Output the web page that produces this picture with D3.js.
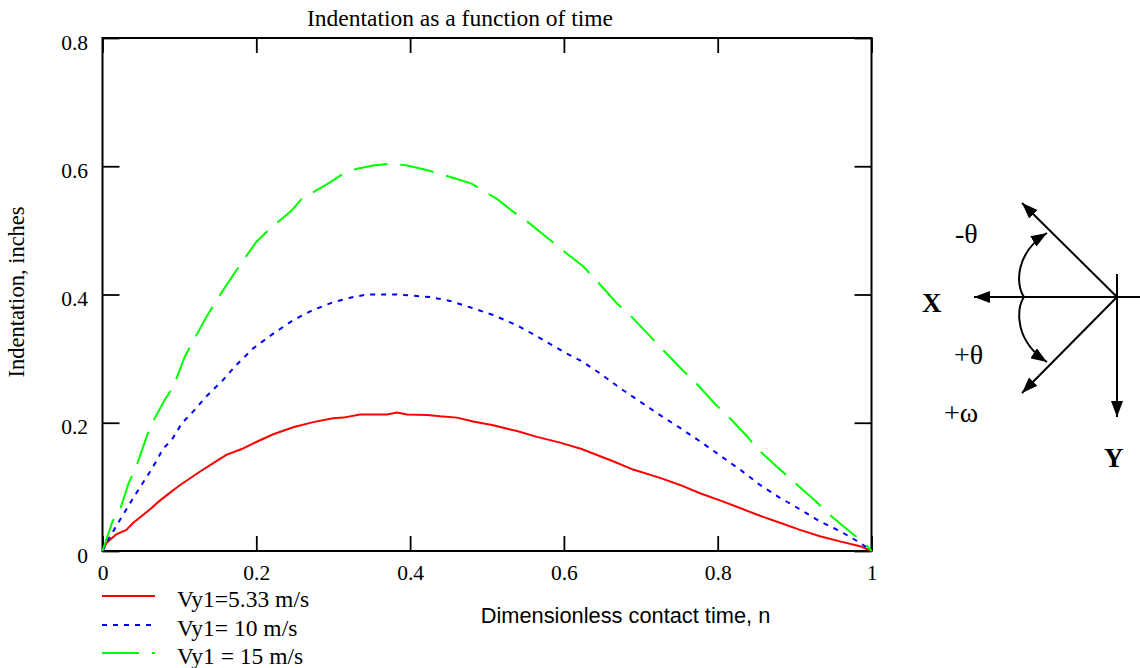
<!DOCTYPE html>
<html>
<head>
<meta charset="utf-8">
<script src="https://cdn.jsdelivr.net/npm/d3@7.9.0/dist/d3.min.js"></script>
<style>
  body { margin: 0; background: #fff; }
  svg { display: block; }
  .serif { font-family: "Liberation Serif", "Times New Roman", serif; }
</style>
</head>
<body>
<svg id="chart" width="1140" height="668"></svg>
<script>
// values (n = dimensionless contact time, v = indentation in inches)
const redN = [0, 0.0055, 0.018, 0.031, 0.040, 0.062, 0.073, 0.090, 0.101, 0.127, 0.144, 0.161, 0.181, 0.200, 0.222, 0.248, 0.274, 0.300, 0.313, 0.335, 0.370, 0.383, 0.396, 0.422, 0.439, 0.461, 0.482, 0.508, 0.539, 0.565, 0.595, 0.623, 0.638, 0.664, 0.690, 0.725, 0.751, 0.777, 0.803, 0.829, 0.855, 0.881, 0.907, 0.933, 0.959, 0.985, 1];
const redV = [0, 0.013, 0.026, 0.033, 0.044, 0.065, 0.077, 0.093, 0.103, 0.124, 0.137, 0.150, 0.159, 0.170, 0.182, 0.193, 0.201, 0.207, 0.208, 0.213, 0.213, 0.216, 0.213, 0.212, 0.210, 0.208, 0.202, 0.196, 0.187, 0.178, 0.169, 0.159, 0.152, 0.140, 0.127, 0.114, 0.103, 0.090, 0.079, 0.067, 0.055, 0.044, 0.033, 0.023, 0.015, 0.0075, 0];

const blueN = [0, 0.0075, 0.023, 0.036, 0.047, 0.062, 0.070, 0.079, 0.090, 0.103, 0.116, 0.135, 0.157, 0.174, 0.196, 0.222, 0.248, 0.274, 0.300, 0.322, 0.344, 0.383, 0.426, 0.452, 0.478, 0.508, 0.539, 0.569, 0.599, 0.623, 0.647, 0.673, 0.699, 0.725, 0.751, 0.777, 0.803, 0.829, 0.855, 0.881, 0.907, 0.933, 0.959, 0.985, 1];
const blueV = [0, 0.018, 0.049, 0.075, 0.096, 0.124, 0.140, 0.160, 0.173, 0.199, 0.215, 0.241, 0.267, 0.290, 0.316, 0.339, 0.360, 0.376, 0.388, 0.395, 0.400, 0.400, 0.396, 0.390, 0.380, 0.368, 0.352, 0.332, 0.311, 0.296, 0.277, 0.254, 0.233, 0.212, 0.192, 0.171, 0.149, 0.127, 0.103, 0.083, 0.065, 0.046, 0.031, 0.013, 0];

const greenN = [0, 0.013, 0.023, 0.034, 0.044, 0.062, 0.081, 0.092, 0.107, 0.135, 0.157, 0.177, 0.200, 0.218, 0.246, 0.259, 0.296, 0.311, 0.331, 0.352, 0.374, 0.396, 0.419, 0.439, 0.461, 0.480, 0.497, 0.513, 0.532, 0.549, 0.580, 0.595, 0.625, 0.643, 0.669, 0.686, 0.712, 0.727, 0.755, 0.768, 0.796, 0.812, 0.838, 0.851, 0.881, 0.896, 0.929, 0.940, 0.974, 0.989, 1];
const greenV = [0, 0.046, 0.065, 0.106, 0.132, 0.194, 0.236, 0.256, 0.303, 0.365, 0.407, 0.443, 0.482, 0.503, 0.531, 0.549, 0.575, 0.587, 0.596, 0.601, 0.604, 0.601, 0.595, 0.588, 0.580, 0.573, 0.560, 0.549, 0.531, 0.517, 0.487, 0.472, 0.444, 0.421, 0.386, 0.368, 0.335, 0.316, 0.281, 0.267, 0.230, 0.212, 0.179, 0.160, 0.127, 0.111, 0.076, 0.062, 0.028, 0.015, 0];

const seriesNames = ['Vy1=5.33 m/s', 'Vy1= 10 m/s', 'Vy1 = 15 m/s'];
const seriesColors = ['#ff0000', '#0000ff', '#00ff00'];
const xTicks = [0, 0.2, 0.4, 0.6, 0.8, 1];
const yTicks = [0, 0.2, 0.4, 0.6, 0.8];

const svg = d3.select('#chart');
const plotLeft = 102.5, plotRight = 871.5, plotTop = 38, plotBottom = 551;

const x = d3.scaleLinear().domain([0, 1]).range([plotLeft, plotRight]);
const y = d3.scaleLinear().domain([0, 0.8]).range([plotBottom, plotTop]);

const series = [
  { name: seriesNames[0], color: seriesColors[0], dash: null, legendDash: null, pts: redN.map((n, i) => [n, redV[i]]) },
  { name: seriesNames[1], color: seriesColors[1], dash: '5,6', legendDash: '5,6', pts: blueN.map((n, i) => [n, blueV[i]]) },
  { name: seriesNames[2], color: seriesColors[2], dash: '34,13', legendDash: '37,13,3,20', pts: greenN.map((n, i) => [n, greenV[i]]) }
];

// title
svg.append('text')
  .attr('class', 'serif')
  .attr('x', 460).attr('y', 26)
  .attr('text-anchor', 'middle')
  .style('font-size', '23.5px')
  .text('Indentation as a function of time');

// axes with inside ticks on all four sides
const fmt = d => d3.format('')(d);
const gLeft = svg.append('g').attr('transform', `translate(${plotLeft},0)`)
  .call(d3.axisLeft(y).tickValues(yTicks).tickSize(-17).tickSizeOuter(0).tickPadding(14.5).tickFormat(fmt));
gLeft.selectAll('text').attr('dy', '0.52em');

const gBottom = svg.append('g').attr('transform', `translate(0,${plotBottom})`)
  .call(d3.axisBottom(x).tickValues(xTicks).tickSize(-15).tickSizeOuter(0).tickFormat(fmt));
gBottom.selectAll('text').attr('y', 29).attr('dy', null);

const gRight = svg.append('g').attr('transform', `translate(${plotRight},0)`)
  .call(d3.axisRight(y).tickValues(yTicks).tickSize(-17).tickSizeOuter(0).tickFormat(''));
const gTop = svg.append('g').attr('transform', `translate(0,${plotTop})`)
  .call(d3.axisTop(x).tickValues(xTicks).tickSize(-15).tickSizeOuter(0).tickFormat(''));

[gLeft, gBottom, gRight, gTop].forEach(g => {
  g.select('.domain').remove();
  g.selectAll('line').attr('stroke', '#000').attr('stroke-width', 1.8);
  g.selectAll('text')
    .attr('class', 'serif')
    .attr('fill', '#000')
    .style('font-size', '21.5px');
});

svg.append('rect')
  .attr('x', plotLeft).attr('y', plotTop)
  .attr('width', plotRight - plotLeft).attr('height', plotBottom - plotTop)
  .attr('fill', 'none').attr('stroke', '#000').attr('stroke-width', 2);

// curves
const line = d3.line().x(d => x(d[0])).y(d => y(d[1]));
series.forEach(s => {
  svg.append('path')
    .attr('d', line(s.pts))
    .attr('fill', 'none')
    .attr('stroke', s.color)
    .attr('stroke-width', 2)
    .attr('stroke-dasharray', s.dash);
});

// axis titles
svg.append('text')
  .attr('class', 'serif')
  .attr('transform', 'translate(24,292) rotate(-90)')
  .attr('text-anchor', 'middle')
  .style('font-size', '22.5px')
  .text('Indentation, inches');

svg.append('text')
  .attr('x', 625.5).attr('y', 623)
  .attr('text-anchor', 'middle')
  .style('font-family', '"Liberation Sans", Arial, sans-serif')
  .style('font-size', '21.8px')
  .text('Dimensionless contact time, n');

// legend
const legendY = [596, 625, 653];
series.forEach((s, i) => {
  svg.append('line')
    .attr('x1', 102).attr('x2', 155)
    .attr('y1', legendY[i]).attr('y2', legendY[i])
    .attr('stroke', s.color).attr('stroke-width', 2)
    .attr('stroke-dasharray', s.legendDash);
  svg.append('text')
    .attr('class', 'serif')
    .attr('x', 177).attr('y', legendY[i] + 11)
    .style('font-size', '23.5px')
    .text(s.name);
});

// rotation sign diagram on the right
const defs = svg.append('defs');
defs.append('marker')
  .attr('id', 'arr')
  .attr('viewBox', '0 0 16 12')
  .attr('refX', 16).attr('refY', 6)
  .attr('markerWidth', 16).attr('markerHeight', 12)
  .attr('markerUnits', 'userSpaceOnUse')
  .attr('orient', 'auto')
  .append('path').attr('d', 'M0,0 L16,6 L0,12 Z').attr('fill', '#000');

const dg = svg.append('g').attr('stroke', '#000').attr('stroke-width', 2).attr('fill', 'none');
const ox = 1117, oy = 297;
dg.append('line').attr('x1', 1140).attr('y1', oy).attr('x2', 974).attr('y2', oy).attr('marker-end', 'url(#arr)');
dg.append('line').attr('x1', ox).attr('y1', 274).attr('x2', ox).attr('y2', 417).attr('marker-end', 'url(#arr)');
dg.append('line').attr('x1', ox).attr('y1', oy).attr('x2', 1022).attr('y2', 203).attr('marker-end', 'url(#arr)');
dg.append('line').attr('x1', ox).attr('y1', oy).attr('x2', 1022).attr('y2', 393).attr('marker-end', 'url(#arr)');
dg.append('path').attr('d', 'M1024,297 C1015,284 1016,252 1047,233').attr('marker-end', 'url(#arr)');
dg.append('path').attr('d', 'M1024,297 C1015,310 1016,342 1047,362').attr('marker-end', 'url(#arr)');

const labels = [
  { t: '-\u03b8', x: 955, y: 243, bold: false },
  { t: '+\u03b8', x: 954, y: 364, bold: false },
  { t: '+\u03c9', x: 944, y: 422, bold: false },
  { t: 'X', x: 922, y: 312, bold: true },
  { t: 'Y', x: 1104, y: 467, bold: true }
];
labels.forEach(l => {
  svg.append('text')
    .attr('class', 'serif')
    .attr('x', l.x).attr('y', l.y)
    .style('font-size', l.bold ? '27px' : '28px')
    .style('font-weight', l.bold ? 'bold' : 'normal')
    .text(l.t);
});
</script>
</body>
</html>
